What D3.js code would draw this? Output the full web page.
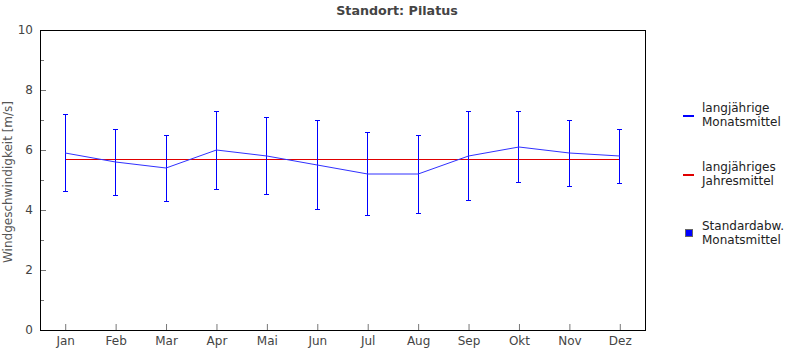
<!DOCTYPE html>
<html>
<head>
<meta charset="utf-8">
<script src="https://cdn.jsdelivr.net/npm/d3@7"></script>
<style>
  html, body { margin: 0; padding: 0; background: #fff; }
  svg { display: block; font-family: "DejaVu Sans", sans-serif; }
</style>
</head>
<body>
<svg id="chart" width="795" height="350"></svg>
<script>
// Monthly wind speed at Pilatus: long-term monthly means and their standard deviations
const months = ["Jan", "Feb", "Mar", "Apr", "Mai", "Jun", "Jul", "Aug", "Sep", "Okt", "Nov", "Dez"];
const monthlyMean = [5.9, 5.6, 5.4, 6.0, 5.8, 5.5, 5.2, 5.2, 5.8, 6.1, 5.9, 5.8];
const monthlySd = [1.27, 1.1, 1.1, 1.3, 1.27, 1.47, 1.37, 1.3, 1.47, 1.17, 1.1, 0.9];
const annualMean = 5.7;
const yTicks = [0, 2, 4, 6, 8, 10];
const yMinorTicks = [1, 3, 5, 7, 9];

const svg = d3.select("#chart");
const plot = { left: 40, top: 30, right: 645, bottom: 330 };

const x = d3.scalePoint().domain(months).range([plot.left, plot.right]).padding(0.5);
const y = d3.scaleLinear().domain([0, 10]).range([plot.bottom, plot.top]);

// title
svg.append("text")
  .attr("x", 397).attr("y", 15)
  .attr("text-anchor", "middle")
  .attr("font-size", "12.7px").attr("font-weight", "bold")
  .attr("fill", "#444")
  .text("Standort: Pilatus");

// y axis title
svg.append("text")
  .attr("transform", "translate(12,182) rotate(-90)")
  .attr("text-anchor", "middle")
  .attr("font-size", "12px")
  .attr("fill", "#555")
  .text("Windgeschwindigkeit [m/s]");

// y axis: labels outside, ticks pointing into the plot
const yAxis = svg.append("g").attr("transform", `translate(${plot.left},0)`)
  .call(d3.axisRight(y).tickValues(yTicks).tickSize(6).tickFormat(d3.format("d")));
yAxis.select(".domain").remove();
yAxis.selectAll("line").attr("stroke", "#777");
yAxis.selectAll("text")
  .attr("x", -7).attr("text-anchor", "end")
  .attr("font-size", "12px").attr("fill", "#444")
  .attr("font-family", "DejaVu Sans, sans-serif");

svg.append("g").selectAll("line").data(yMinorTicks).join("line")
  .attr("x1", plot.left).attr("x2", plot.left + 4)
  .attr("y1", d => y(d) + 0.5).attr("y2", d => y(d) + 0.5)
  .attr("stroke", "#777");

// x axis: ticks pointing up into the plot, labels below
const xAxis = svg.append("g").attr("transform", `translate(0,${plot.bottom})`)
  .call(d3.axisTop(x).tickSize(6));
xAxis.select(".domain").remove();
xAxis.selectAll("line").attr("stroke", "#777");
xAxis.selectAll("text")
  .attr("y", 15).attr("dy", "0")
  .attr("font-size", "12px").attr("fill", "#444")
  .attr("font-family", "DejaVu Sans, sans-serif");

// plot frame
svg.append("rect")
  .attr("x", plot.left + 0.5).attr("y", plot.top + 0.5)
  .attr("width", plot.right - plot.left).attr("height", plot.bottom - plot.top)
  .attr("fill", "none").attr("stroke", "#000").attr("stroke-width", 1);

// annual mean line
svg.append("line")
  .attr("x1", x(months[0])).attr("x2", x(months[months.length - 1]))
  .attr("y1", y(annualMean) + 0.5).attr("y2", y(annualMean) + 0.5)
  .attr("stroke", "#e00000").attr("stroke-width", 1)
  .attr("shape-rendering", "crispEdges");

// standard deviation error bars
const data = months.map((m, i) => ({ m, mean: monthlyMean[i], sd: monthlySd[i] }));
const bars = svg.append("g").attr("stroke", "#0000ff").attr("stroke-width", 1)
  .attr("shape-rendering", "crispEdges");
bars.selectAll(".v").data(data).join("line")
  .attr("x1", d => x(d.m)).attr("x2", d => x(d.m))
  .attr("y1", d => y(d.mean + d.sd)).attr("y2", d => y(d.mean - d.sd));
bars.selectAll(".t").data(data).join("line")
  .attr("x1", d => x(d.m) - 2.5).attr("x2", d => x(d.m) + 2.5)
  .attr("y1", d => y(d.mean + d.sd)).attr("y2", d => y(d.mean + d.sd));
bars.selectAll(".b").data(data).join("line")
  .attr("x1", d => x(d.m) - 2.5).attr("x2", d => x(d.m) + 2.5)
  .attr("y1", d => y(d.mean - d.sd)).attr("y2", d => y(d.mean - d.sd));

// monthly mean line
svg.append("path")
  .datum(data)
  .attr("fill", "none").attr("stroke", "#3030ff").attr("stroke-width", 1)
  .attr("d", d3.line().x(d => x(d.m)).y(d => y(d.mean)));

// legend
const legend = svg.append("g").attr("font-size", "12px").attr("fill", "#222");
function legendText(lines, baseline) {
  const t = legend.append("text").attr("x", 702).attr("y", baseline);
  lines.forEach((s, i) => t.append("tspan").attr("x", 702).attr("dy", i ? 14 : 0).text(s));
}
legend.append("line").attr("x1", 683).attr("x2", 694).attr("y1", 116).attr("y2", 116)
  .attr("stroke", "#0000ff").attr("stroke-width", 2);
legendText(["langjährige", "Monatsmittel"], 112);
legend.append("line").attr("x1", 683).attr("x2", 694).attr("y1", 175).attr("y2", 175)
  .attr("stroke", "#e00000").attr("stroke-width", 2);
legendText(["langjähriges", "Jahresmittel"], 171);
legend.append("rect").attr("x", 685.5).attr("y", 229.5).attr("width", 7).attr("height", 7)
  .attr("fill", "#0000ff").attr("stroke", "#666");
legendText(["Standardabw.", "Monatsmittel"], 230);
</script>
</body>
</html>
